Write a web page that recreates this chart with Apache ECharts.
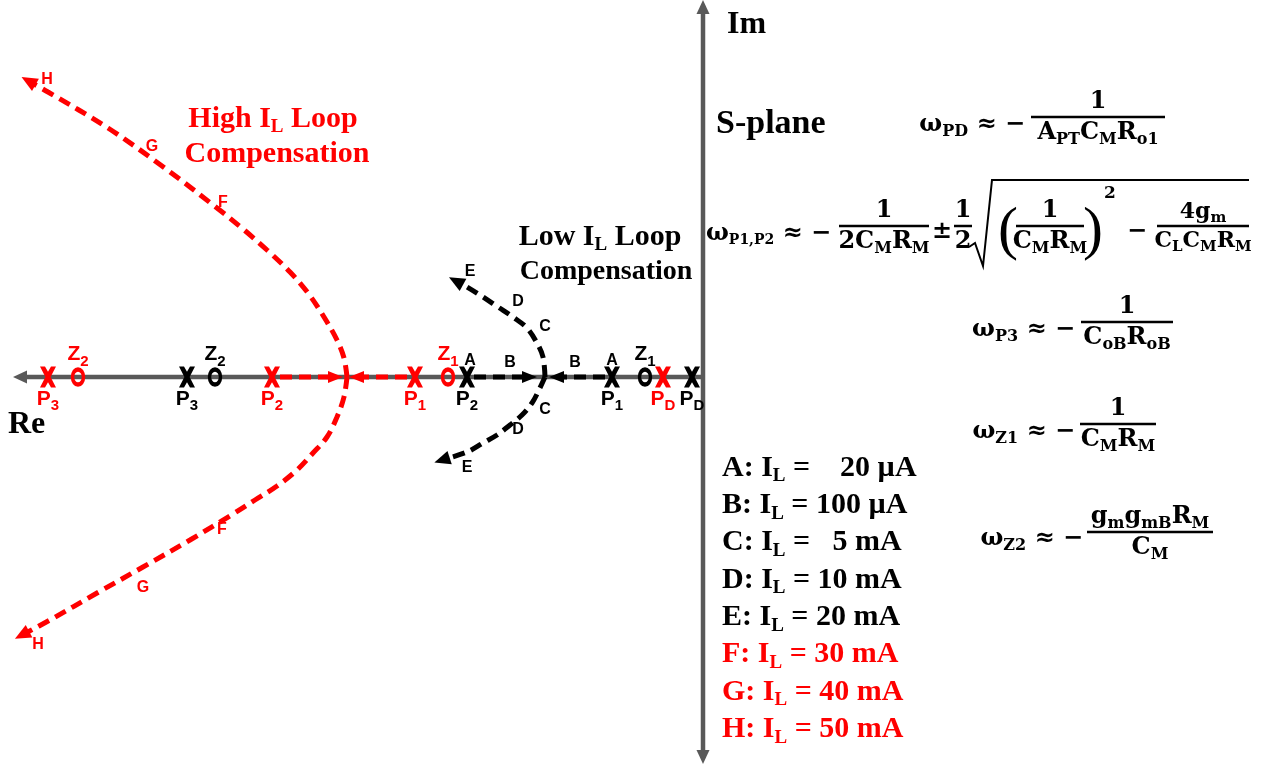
<!DOCTYPE html>
<html>
<head>
<meta charset="utf-8">
<title>S-plane root locus: low / high IL loop compensation</title>
<script src="https://cdn.jsdelivr.net/npm/echarts@6.0.0/dist/echarts.min.js"></script>
<style>
  html, body { margin: 0; padding: 0; background: #ffffff; }
  #chart { width: 1265px; height: 767px; }
</style>
</head>
<body>
<div id="chart"></div>
<script>
// ---------------- data (s-plane units, origin where Re and Im cross) ----------------
// Axis extents (arrow tips)
const reAxisTip = -69.0;
const imAxisTop = 37.7;
const imAxisBottom = -38.7;

// Low IL loop compensation: poles and zeros on the real axis
const lowPoleNames = ['P3', 'P2', 'P1', 'PD'];
const lowPoleRe = [-51.6, -23.6, -9.1, -1.1];
const lowZeroNames = ['Z2', 'Z1'];
const lowZeroRe = [-48.8, -5.8];

// High IL loop compensation: poles and zeros on the real axis
const highPoleNames = ['P3', 'P2', 'P1', 'PD'];
const highPoleRe = [-65.5, -43.1, -28.8, -4.0];
const highZeroNames = ['Z2', 'Z1'];
const highZeroRe = [-62.5, -25.5];

// Low IL locus branches (last point of each = arrow head)
const lowFromP2 = [[-22.9, 0], [-17.35, 0]];
const lowFromP1 = [[-9.8, 0], [-14.65, 0]];
const lowLocusUp = [[-15.8, 0], [-16.0, 2.0], [-16.6, 3.4], [-17.6, 4.9], [-19.0, 6.0], [-20.5, 7.0], [-22.0, 8.0], [-23.6, 9.0], [-24.7, 9.6]];
const lowLocusDown = [[-15.8, 0], [-16.5, -1.5], [-17.1, -2.6], [-18.1, -3.8], [-19.3, -4.8], [-20.6, -5.8], [-22.0, -6.6], [-23.6, -7.5], [-26.1, -8.3]];

// High IL locus branches
const highFromP2 = [[-42.3, 0], [-36.75, 0]];
const highFromP1 = [[-29.6, 0], [-34.65, 0]];
const highLocusUp = [[-35.6, 0], [-35.9, 1.9], [-36.6, 3.7], [-37.9, 6.0], [-39.5, 8.4], [-41.3, 10.5], [-43.6, 12.7], [-46.0, 14.8], [-48.6, 16.9], [-54.1, 21.1], [-59.5, 24.9], [-65.5, 28.5], [-67.45, 29.6]];
const highLocusDown = [[-35.6, 0], [-35.9, -2.0], [-36.6, -4.0], [-37.6, -6.0], [-39.0, -7.6], [-40.6, -9.3], [-42.6, -10.9], [-44.8, -12.3], [-47.0, -13.7], [-51.3, -16.3], [-56.0, -19.0], [-60.6, -21.6], [-65.3, -24.3], [-68.1, -25.8]];

// Load-current tags along the loci
const lowTags = [['A', -23.3, 1.6], ['B', -19.3, 1.4], ['B', -12.8, 1.4], ['A', -9.1, 1.6],
                 ['C', -15.8, 5.0], ['D', -18.5, 7.5], ['E', -23.3, 10.5],
                 ['C', -15.8, -3.3], ['D', -18.5, -5.3], ['E', -23.6, -9.1]];
const highTags = [['F', -48.0, 17.4], ['G', -55.1, 23.0], ['H', -65.6, 29.7],
                  ['F', -48.1, -15.3], ['G', -56.0, -21.1], ['H', -66.5, -26.8]];

// Legend of load currents
const legendLetters = ['A', 'B', 'C', 'D', 'E', 'F', 'G', 'H'];
const legendCurrents = ['   20 \u00B5A', '100 \u00B5A', '  5 mA', '10 mA', '20 mA', '30 mA', '40 mA', '50 mA'];
const highLetters = ['F', 'G', 'H'];

// ---------------- styling ----------------
const RED = '#ff0000';
const BLACK = '#000000';
const AXIS = '#595959';
const SANS = '"Liberation Sans", Arial, sans-serif';
const SERIF = '"Liberation Serif", "Times New Roman", serif';
const MATH = '"DejaVu Serif", serif';

// bold "X" glyph used for poles (16 x 22 box)
const X_PATH = 'path://M0,0 L5,0 L8,5.5 L11,0 L16,0 L10.6,11 L16,22 L11,22 L8,16.5 L5,22 L0,22 L5.4,11 Z';

function richSet(family, size, subSize, drop, color) {
  return {
    m: { fontFamily: family, fontWeight: 'bold', fontSize: size, lineHeight: size, verticalAlign: 'top', color: color, fill: color },
    s: { fontFamily: family, fontWeight: 'bold', fontSize: subSize, lineHeight: subSize, verticalAlign: 'top', padding: [drop, 0, 0, 0], color: color, fill: color }
  };
}
function withSub(name) {
  return '{m|' + name[0] + '}{s|' + name.slice(1) + '}';
}

// heading of an arrow head from the last two points of a path
function headOf(path) {
  const a = path[path.length - 2], b = path[path.length - 1];
  const deg = Math.atan2(b[1] - a[1], b[0] - a[0]) * 180 / Math.PI - 90;
  return { value: b, symbolRotate: deg };
}

function dashed(path, color, z) {
  return {
    type: 'line', data: path, smooth: path.length > 2 ? 0.35 : false,
    symbol: 'none', silent: true, z: z,
    lineStyle: { color: color, width: 5, type: [12, 7], cap: 'butt', opacity: 1 }
  };
}
function heads(paths, color, size, z) {
  return {
    type: 'scatter', data: paths.map(headOf), symbol: 'triangle', symbolSize: size,
    silent: true, z: z, itemStyle: { color: color, opacity: 1 }
  };
}
function markers(names, re, kind, color) {
  const isPole = kind === 'pole';
  return {
    type: 'scatter', silent: true, z: 6,
    data: names.map((n, i) => ({ name: n, value: [re[i], 0] })),
    symbol: isPole ? X_PATH : 'circle',
    symbolSize: isPole ? [16, 21] : [11, 15],
    itemStyle: isPole ? { color: color, opacity: 1 } : { color: 'rgba(0,0,0,0)', borderColor: color, borderWidth: 4, opacity: 1 },
    label: {
      show: true, position: isPole ? 'bottom' : 'top', distance: isPole ? 1 : 2, opacity: 1,
      formatter: p => withSub(p.name),
      rich: richSet(SANS, 21, 15, 10, color)
    }
  };
}
function tags(list, color) {
  return {
    type: 'scatter', silent: true, z: 7, symbolSize: 1,
    itemStyle: { color: 'rgba(0,0,0,0)', opacity: 1 },
    data: list.map(t => ({ name: t[0], value: [t[1], t[2]] })),
    label: {
      show: true, position: 'inside', formatter: p => p.name, opacity: 1,
      color: color, fontFamily: SANS, fontWeight: 'bold', fontSize: 16
    }
  };
}

// ---------------- text annotations ----------------
const gfx = [];
function addText(x, y, text, rich, align, vAlign, extra) {
  gfx.push({
    type: 'text', x: x, y: y, silent: true, z: 10,
    style: Object.assign({ text: text, rich: rich, align: align, verticalAlign: vAlign, fill: '#000' }, extra || {})
  });
}
function addLine(x1, y1, x2, y2, w) {
  gfx.push({ type: 'line', silent: true, z: 10, shape: { x1: x1, y1: y1, x2: x2, y2: y2 }, style: { stroke: '#000', lineWidth: w || 2.5 } });
}
const fR = richSet(MATH, 24, 16, 11, '#000');
const fRsmall = richSet(MATH, 22, 15, 10, '#000');
function frac(cx, yBar, halfW, num, den, rich) {
  const r = rich || fR;
  addText(cx, yBar - 3, num, r, 'center', 'bottom');
  addLine(cx - halfW, yBar, cx + halfW, yBar);
  addText(cx, yBar + 4, den, r, 'center', 'top');
}

// axis names and panel titles
const bigSerif = { font: 'bold 32px ' + SERIF };
addText(727, 25, 'Im', null, 'left', 'middle', bigSerif);
addText(8, 425, 'Re', null, 'left', 'middle', bigSerif);
addText(716, 124, 'S-plane', null, 'left', 'middle', { font: 'bold 34px ' + SERIF });

const titleRed = richSet(SERIF, 30, 19, 14, RED);
addText(273, 119, '{m|High I}{s|L}{m| Loop}', titleRed, 'center', 'middle');
addText(277, 154, '{m|Compensation}', titleRed, 'center', 'middle');
addText(600, 237, '{m|Low I}{s|L}{m| Loop}', richSet(SERIF, 30, 19, 14, BLACK), 'center', 'middle');
addText(606, 272, '{m|Compensation}', richSet(SERIF, 28, 18, 13, BLACK), 'center', 'middle');

// load-current legend
legendLetters.forEach((L, i) => {
  const color = highLetters.indexOf(L) >= 0 ? RED : BLACK;
  addText(722, 468 + i * 37.3, '{m|' + L + ': I}{s|L}{m| = ' + legendCurrents[i] + '}',
          richSet(SERIF, 30, 19, 14, color), 'left', 'middle');
});

// pole / zero expressions
addText(1025, 125, '{m|\u03C9}{s|PD}{m| \u2248 \u2212}', fR, 'right', 'middle');
frac(1098, 117, 67, '{m|1}', '{m|A}{s|PT}{m|C}{s|M}{m|R}{s|o1}');

addText(706, 234, '{m|\u03C9}{s|P1,P2}{m| \u2248 \u2212}', richSet(MATH, 24, 14, 11, '#000'), 'left', 'middle');
frac(884, 226, 45, '{m|1}', '{m|2C}{s|M}{m|R}{s|M}');
addText(942, 232, '{m|\u00B1}', fR, 'center', 'middle');
frac(963, 226, 9, '{m|1}', '{m|2}');
gfx.push({ type: 'polyline', silent: true, z: 10, shape: { points: [[969, 247], [975, 243], [983, 266], [992, 180], [1249, 180]] }, style: { stroke: '#000', lineWidth: 2, fill: null } });
addText(1008, 232, '(', null, 'center', 'middle', { font: '60px ' + SERIF });
frac(1050, 226, 34, '{m|1}', '{m|C}{s|M}{m|R}{s|M}');
addText(1093, 232, ')', null, 'center', 'middle', { font: '60px ' + SERIF });
addText(1110, 194, '2', null, 'center', 'middle', { font: 'bold 17px ' + MATH });
addText(1137, 232, '{m|\u2212}', fR, 'center', 'middle');
frac(1203, 226, 46, '{m|4g}{s|m}', '{m|C}{s|L}{m|C}{s|M}{m|R}{s|M}', fRsmall);

addText(1075, 330, '{m|\u03C9}{s|P3}{m| \u2248 \u2212}', fR, 'right', 'middle');
frac(1127, 322, 46, '{m|1}', '{m|C}{s|oB}{m|R}{s|oB}');

addText(1075, 432, '{m|\u03C9}{s|Z1}{m| \u2248 \u2212}', fR, 'right', 'middle');
frac(1118, 424, 38, '{m|1}', '{m|C}{s|M}{m|R}{s|M}');

addText(1083, 539, '{m|\u03C9}{s|Z2}{m| \u2248 \u2212}', fR, 'right', 'middle');
frac(1150, 532, 63, '{m|g}{s|m}{m|g}{s|mB}{m|R}{s|M}', '{m|C}{s|M}');

// ---------------- chart ----------------
const reAxisPath = [[0, 0], [reAxisTip + 0.7, 0]];
const imAxisPath = [[0, imAxisTop - 0.7], [0, imAxisBottom + 0.7]];

const option = {
  animation: false,
  backgroundColor: '#ffffff',
  grid: { left: 0, right: 0, top: 0, bottom: 0 },
  xAxis: { type: 'value', min: -70.3, max: 56.2, show: false },
  yAxis: { type: 'value', min: -39.0, max: 37.7, show: false },
  graphic: { elements: gfx },
  series: [
    { type: 'line', data: reAxisPath, symbol: 'none', silent: true, z: 1, lineStyle: { color: AXIS, width: 4.5 } },
    { type: 'line', data: imAxisPath, symbol: 'none', silent: true, z: 1, lineStyle: { color: AXIS, width: 4.5 } },
    {
      type: 'scatter', symbol: 'triangle', symbolSize: [13, 14], silent: true, z: 1,
      itemStyle: { color: AXIS, opacity: 1 },
      data: [
        { value: [reAxisTip + 0.7, 0], symbolRotate: 90 },
        { value: [0, imAxisTop - 0.7], symbolRotate: 0 },
        { value: [0, imAxisBottom + 0.7], symbolRotate: 180 }
      ]
    },

    dashed(lowFromP2, BLACK, 3), dashed(lowFromP1, BLACK, 3),
    dashed(lowLocusUp, BLACK, 3), dashed(lowLocusDown, BLACK, 3),
    heads([lowFromP2, lowFromP1], BLACK, [12, 15], 4),
    heads([lowLocusUp, lowLocusDown], BLACK, [14, 16], 4),

    dashed(highFromP2, RED, 3), dashed(highFromP1, RED, 3),
    dashed(highLocusUp, RED, 3), dashed(highLocusDown, RED, 3),
    heads([highFromP2, highFromP1], RED, [12, 15], 4),
    heads([highLocusUp, highLocusDown], RED, [14, 16], 4),

    markers(lowPoleNames, lowPoleRe, 'pole', BLACK),
    markers(lowZeroNames, lowZeroRe, 'zero', BLACK),
    markers(highPoleNames, highPoleRe, 'pole', RED),
    markers(highZeroNames, highZeroRe, 'zero', RED),

    tags(lowTags, BLACK),
    tags(highTags, RED)
  ]
};

const chart = echarts.init(document.getElementById('chart'));
chart.setOption(option);
</script>
</body>
</html>
